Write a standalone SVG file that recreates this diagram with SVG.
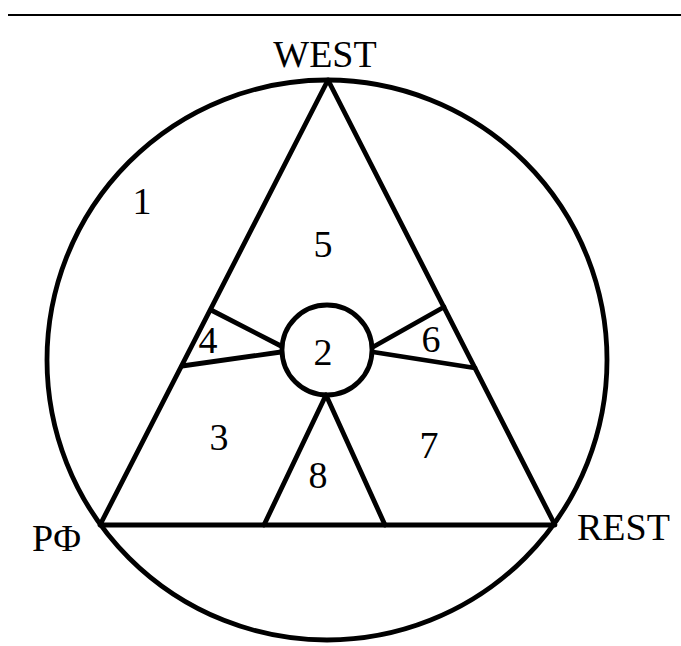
<svg xmlns="http://www.w3.org/2000/svg" width="681" height="646" viewBox="0 0 681 646">
<style>
.s{fill:none;stroke:#000;stroke-width:4.8;stroke-linecap:round;stroke-linejoin:round}
.t{font-family:"Liberation Serif","Times New Roman",serif;font-size:38px;fill:#000}
.m{text-anchor:middle}
</style>
<rect width="681" height="646" fill="#fff"/>
<line x1="8" y1="15" x2="681" y2="15" stroke="#000" stroke-width="2"/>
<g id="outer-circle"><circle class="s" cx="327" cy="360" r="280"/></g>
<g id="triangle"><polygon class="s" points="328,80 100,525 555,525"/></g>
<g id="inner-circle"><circle class="s" cx="327" cy="350" r="45"/></g>
<g id="connectors">
<line class="s" x1="211" y1="310" x2="281" y2="346"/>
<line class="s" x1="182" y1="366" x2="281" y2="352"/>
<line class="s" x1="444" y1="307" x2="373" y2="347"/>
<line class="s" x1="475" y1="368" x2="373" y2="352"/>
<line class="s" x1="326" y1="395" x2="264" y2="525"/>
<line class="s" x1="326" y1="395" x2="385" y2="525"/>
</g>
<g id="labels">
<text class="t m" x="325" y="67">WEST</text>
<text class="t" x="32" y="551">PΦ</text>
<text class="t" x="577" y="540">REST</text>
<text class="t m" x="142" y="214">1</text>
<text class="t m" x="323" y="257">5</text>
<text class="t m" x="208" y="353">4</text>
<text class="t m" x="323" y="365">2</text>
<text class="t m" x="431" y="352">6</text>
<text class="t m" x="219" y="450">3</text>
<text class="t m" x="429" y="458">7</text>
<text class="t m" x="318" y="488">8</text>
</g>
</svg>
